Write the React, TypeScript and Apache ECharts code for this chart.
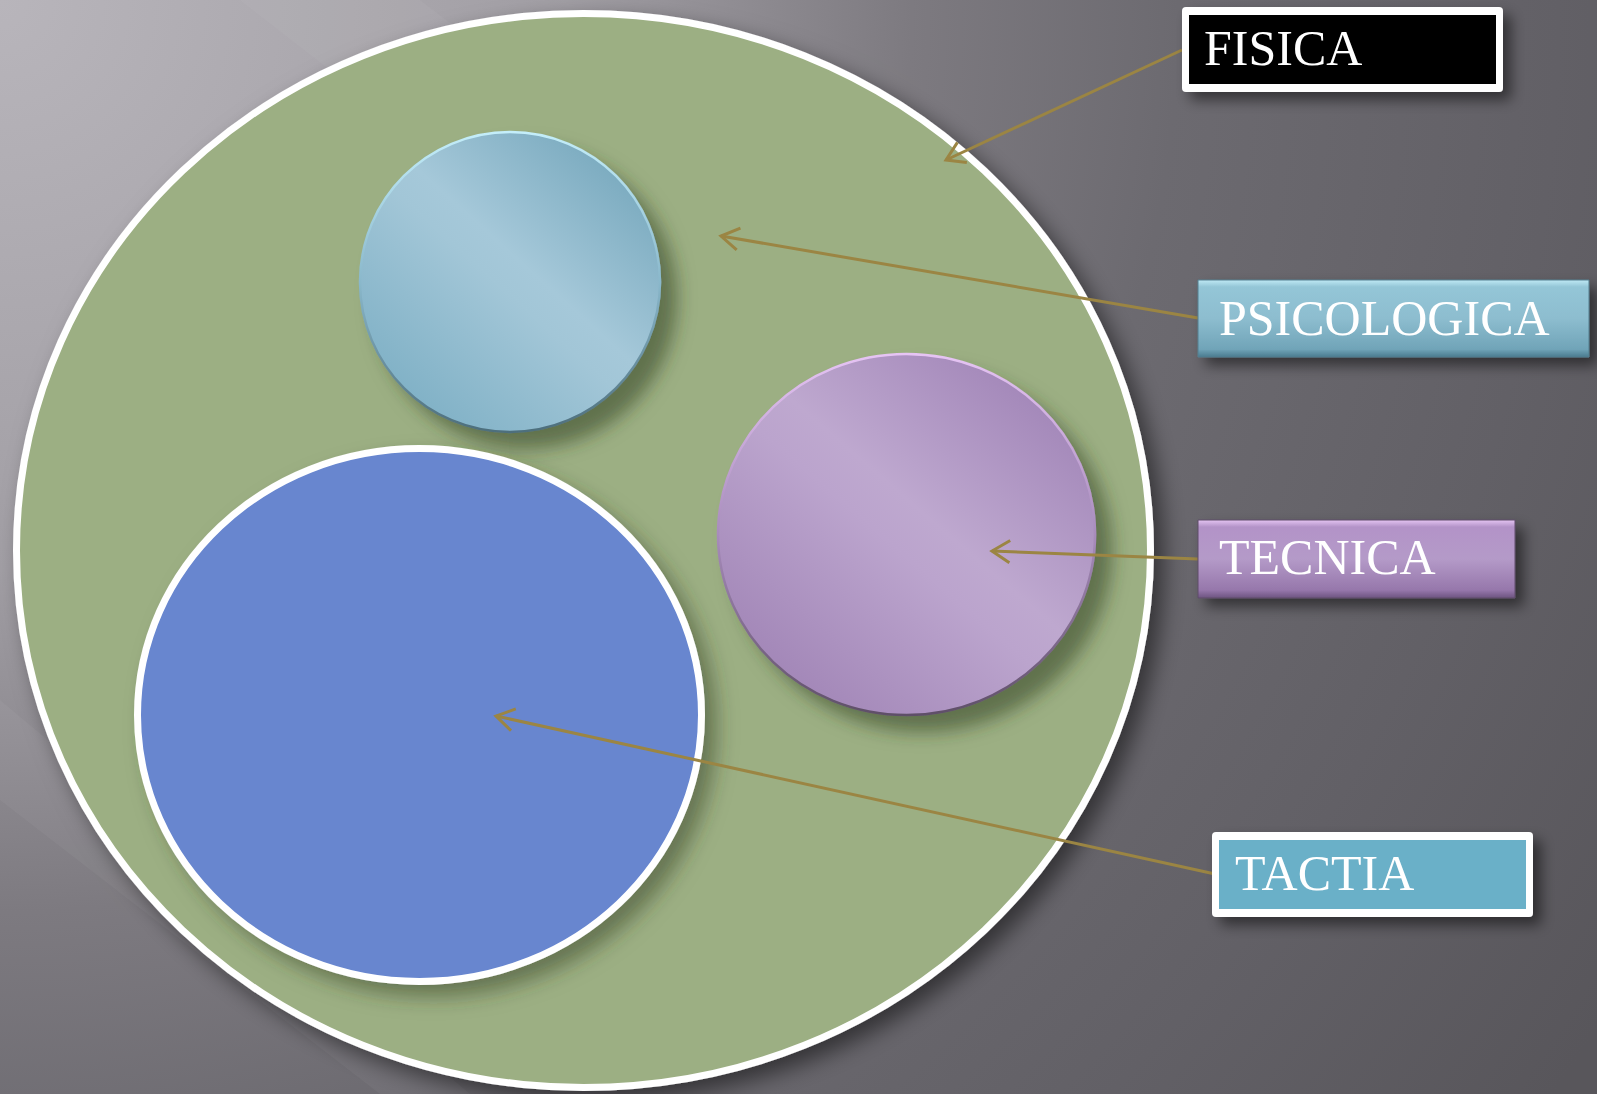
import React, { useEffect, useRef } from "react";
import * as echarts from "echarts";

// Diagram labels (top to bottom)
const labels = ["FISICA", "PSICOLOGICA", "TECNICA", "TACTIA"];

const W = 1597;
const H = 1094;
const ARROW = "#9b8543";
const FONT = "'Liberation Serif', 'DejaVu Serif', serif";

function arrow(x1: number, y1: number, x2: number, y2: number) {
  const dx = x2 - x1;
  const dy = y2 - y1;
  const len = Math.sqrt(dx * dx + dy * dy);
  const ux = dx / len;
  const uy = dy / len;
  const L = 21;
  const a = (32 * Math.PI) / 180;
  const rot = (s: number) => {
    const c = Math.cos(s * a);
    const sn = Math.sin(s * a);
    return [ux * c - uy * sn, ux * sn + uy * c];
  };
  const r1 = rot(1);
  const r2 = rot(-1);
  return [
    {
      type: "line",
      z: 20,
      shape: { x1, y1, x2, y2 },
      style: { stroke: ARROW, lineWidth: 3 },
    },
    {
      type: "polyline",
      z: 20,
      shape: {
        points: [
          [x2 - L * r1[0], y2 - L * r1[1]],
          [x2, y2],
          [x2 - L * r2[0], y2 - L * r2[1]],
        ],
      },
      style: { stroke: ARROW, lineWidth: 3, fill: null },
    },
  ];
}

export default function App() {
  const ref = useRef<HTMLDivElement>(null);
  useEffect(() => {
    document.body.style.margin = "0";
    const chart = echarts.init(ref.current!, null, { renderer: "svg" });

    const bg = {
      type: "rect",
      z: 0,
      shape: { x: 0, y: 0, width: W, height: H },
      style: {
        fill: {
          type: "radial",
          x: 0,
          y: 0,
          r: 1900,
          global: true,
          colorStops: [
            { offset: 0, color: "#b8b5bb" },
            { offset: 0.16, color: "#aca9af" },
            { offset: 0.3, color: "#a19ea4" },
            { offset: 0.48, color: "#7d7a80" },
            { offset: 0.62, color: "#6c6a70" },
            { offset: 0.82, color: "#626066" },
            { offset: 1, color: "#58565b" },
          ],
        },
      },
    };
    const streaks = [
      {
        type: "polygon",
        z: 1,
        shape: { points: [[0, 700], [0, 800], [380, 1094], [470, 1094]] },
        style: { fill: "rgba(255,255,255,0.04)" },
      },
      {
        type: "polygon",
        z: 1,
        shape: { points: [[240, 0], [420, 0], [760, 260], [600, 280]] },
        style: { fill: "rgba(255,255,255,0.035)" },
      },
    ];

    const green = {
      type: "ellipse",
      z: 5,
      shape: { cx: 583.5, cy: 550.5, rx: 567, ry: 537 },
      style: {
        fill: "#9caf83",
        stroke: "#ffffff",
        lineWidth: 7,
        shadowBlur: 22,
        shadowOffsetX: 10,
        shadowOffsetY: 10,
        shadowColor: "rgba(0,0,0,0.5)",
      },
    };

    const innerShadow = {
      shadowBlur: 18,
      shadowOffsetX: 16,
      shadowOffsetY: 16,
      shadowColor: "rgba(45,60,30,0.55)",
    };

    const lightBlue = {
      type: "ellipse",
      z: 6,
      shape: { cx: 510, cy: 282, rx: 150, ry: 150 },
      style: {
        fill: {
          type: "linear",
          x: 1,
          y: 0,
          x2: 0.1,
          y2: 1,
          colorStops: [
            { offset: 0, color: "#6a9fb5" },
            { offset: 0.47, color: "#a5c8d9" },
            { offset: 0.55, color: "#a2c6d7" },
            { offset: 1, color: "#78acc2" },
          ],
        },
        stroke: {
          type: "linear",
          x: 0,
          y: 0,
          x2: 0,
          y2: 1,
          colorStops: [
            { offset: 0, color: "#c4eefa" },
            { offset: 0.5, color: "#8ab8cb" },
            { offset: 1, color: "#4d6e7c" },
          ],
        },
        lineWidth: 2.5,
        ...innerShadow,
      },
    };

    const purple = {
      type: "ellipse",
      z: 6,
      shape: { cx: 906.5, cy: 534.5, rx: 188.5, ry: 180.5 },
      style: {
        fill: {
          type: "linear",
          x: 1,
          y: 0,
          x2: 0.1,
          y2: 1,
          colorStops: [
            { offset: 0, color: "#987ab0" },
            { offset: 0.47, color: "#bea8cf" },
            { offset: 0.56, color: "#bba4cd" },
            { offset: 1, color: "#9c7fb2" },
          ],
        },
        stroke: {
          type: "linear",
          x: 0,
          y: 0,
          x2: 0,
          y2: 1,
          colorStops: [
            { offset: 0, color: "#e6c4f4" },
            { offset: 0.5, color: "#a88cbc" },
            { offset: 1, color: "#5f4f68" },
          ],
        },
        lineWidth: 2.5,
        ...innerShadow,
      },
    };

    const blue = {
      type: "ellipse",
      z: 6,
      shape: { cx: 419.5, cy: 715, rx: 282, ry: 266.5 },
      style: {
        fill: "#6786cf",
        stroke: "#ffffff",
        lineWidth: 7,
        shadowBlur: 20,
        shadowOffsetX: 12,
        shadowOffsetY: 12,
        shadowColor: "rgba(45,60,30,0.5)",
      },
    };

    const boxShadow = {
      shadowBlur: 14,
      shadowOffsetX: 8,
      shadowOffsetY: 8,
      shadowColor: "rgba(0,0,0,0.5)",
    };

    const boxes: any[] = [
      // FISICA
      {
        type: "rect",
        z: 30,
        shape: { x: 1182, y: 7, width: 321, height: 85, r: 4 },
        style: { fill: "#ffffff", ...boxShadow },
      },
      {
        type: "rect",
        z: 31,
        shape: { x: 1189, y: 15, width: 307, height: 69 },
        style: { fill: "#000000" },
      },
      // PSICOLOGICA
      {
        type: "rect",
        z: 30,
        shape: { x: 1198, y: 280, width: 391, height: 77 },
        style: {
          fill: {
            type: "linear",
            x: 0,
            y: 0,
            x2: 0,
            y2: 1,
            colorStops: [
              { offset: 0, color: "#bfe9f4" },
              { offset: 0.09, color: "#94c6d7" },
              { offset: 0.5, color: "#8dbdcf" },
              { offset: 0.9, color: "#70a4b8" },
              { offset: 1, color: "#4a7b8f" },
            ],
          },
          stroke: "#557f8f",
          lineWidth: 1,
          ...boxShadow,
        },
      },
      // TECNICA
      {
        type: "rect",
        z: 30,
        shape: { x: 1198, y: 520, width: 317, height: 78 },
        style: {
          fill: {
            type: "linear",
            x: 0,
            y: 0,
            x2: 0,
            y2: 1,
            colorStops: [
              { offset: 0, color: "#e4c4f2" },
              { offset: 0.09, color: "#b393c8" },
              { offset: 0.5, color: "#b49ac8" },
              { offset: 0.9, color: "#9677ab" },
              { offset: 1, color: "#6d5480" },
            ],
          },
          stroke: "#5e4c68",
          lineWidth: 1,
          ...boxShadow,
        },
      },
      // TACTIA
      {
        type: "rect",
        z: 30,
        shape: { x: 1212, y: 832, width: 321, height: 85, r: 4 },
        style: { fill: "#ffffff", ...boxShadow },
      },
      {
        type: "rect",
        z: 31,
        shape: { x: 1219, y: 840, width: 307, height: 69 },
        style: { fill: "#6ab0c8" },
      },
    ];

    const textPos = [
      [1204, 48],
      [1219, 318],
      [1219, 557],
      [1235, 873],
    ];
    const texts = labels.map((t, i) => ({
      type: "text",
      z: 40,
      x: textPos[i][0],
      y: textPos[i][1],
      style: {
        text: t,
        fill: "#ffffff",
        fontSize: 50,
        fontFamily: FONT,
        align: "left",
        verticalAlign: "middle",
      },
    }));

    const arrows = [
      ...arrow(1182, 50, 946, 160),
      ...arrow(1198, 318, 721, 236),
      ...arrow(1198, 559, 992, 551),
      ...arrow(1215, 874, 496, 716),
    ];

    chart.setOption({
      animation: false,
      graphic: {
        elements: [bg, ...streaks, green, lightBlue, purple, blue, ...arrows, ...boxes, ...texts],
      },
    });
    return () => chart.dispose();
  }, []);
  return <div ref={ref} style={{ width: W, height: H }} />;
}
